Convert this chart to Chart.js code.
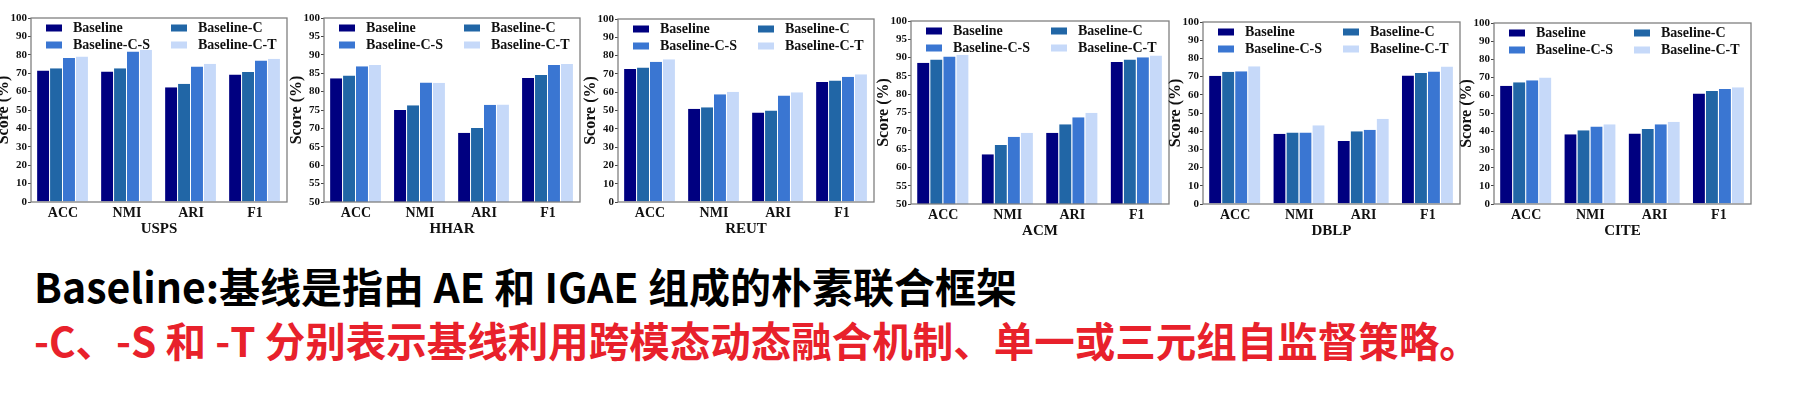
<!DOCTYPE html>
<html>
<head>
<meta charset="utf-8">
<script src="https://cdn.jsdelivr.net/npm/chart.js@4.4.1/dist/chart.umd.min.js"></script>
<style>
    body { margin: 0; width: 1802px; height: 397px; overflow: hidden; background: #fff; position: relative; }
    canvas { position: absolute; top: 0; }
    .note { position: absolute; left: 34px; font-family: "Noto Sans CJK SC", sans-serif; font-weight: 700;
            line-height: 1; white-space: nowrap; }
</style>
</head>
<body>
<div id="charts"></div>
<div class="note" style="top:265px;font-size:41px;color:#000">Baseline:基线是指由 AE 和 IGAE 组成的朴素联合框架</div>
<div class="note" style="top:320px;font-size:40.5px;color:#e8212b">-C、-S 和 -T 分别表示基线利用跨模态动态融合机制、单一或三元组自监督策略。</div>
<script>
// Data
const categories = ['ACC', 'NMI', 'ARI', 'F1'];
const seriesNames = ['Baseline', 'Baseline-C', 'Baseline-C-S', 'Baseline-C-T'];
const datasetNames = ['USPS', 'HHAR', 'REUT', 'ACM', 'DBLP', 'CITE'];
const yMin = [0, 50, 0, 50, 0, 0];
const yStep = [10, 5, 10, 5, 10, 10];

// rows follow seriesNames, columns follow categories
const uspsScores = [
    [71.5, 70.9, 62.4, 69.3],
    [72.7, 72.7, 64.2, 70.7],
    [78.2, 81.8, 73.6, 76.9],
    [79.1, 82.7, 75.1, 77.8]
];
const hharScores = [
    [83.6, 75.0, 68.8, 83.7],
    [84.4, 76.3, 70.1, 84.5],
    [86.9, 82.5, 76.4, 87.2],
    [87.2, 82.4, 76.5, 87.5]
];
const reutScores = [
    [72.7, 50.9, 48.9, 65.6],
    [73.5, 51.8, 50.0, 66.4],
    [76.7, 58.9, 58.2, 68.5],
    [78.0, 60.2, 60.0, 69.8]
];
const acmScores = [
    [88.6, 63.6, 69.5, 88.8],
    [89.5, 66.1, 71.8, 89.5],
    [90.3, 68.4, 73.7, 90.1],
    [90.8, 69.5, 74.9, 90.6]
];
const dblpScores = [
    [70.4, 38.6, 34.6, 70.6],
    [72.6, 39.3, 40.0, 72.0],
    [72.9, 39.3, 40.8, 72.8],
    [75.7, 43.3, 46.8, 75.5]
];
const citeScores = [
    [65.4, 38.6, 39.0, 61.0],
    [67.3, 40.8, 41.5, 62.5],
    [68.4, 42.8, 44.1, 63.6],
    [69.9, 44.1, 45.4, 64.5]
];
const allScores = [uspsScores, hharScores, reutScores, acmScores, dblpScores, citeScores];

// Styling / layout
const seriesColors = ['#000080', '#2166a6', '#3a76d2', '#c6d9f9'];
// plot area of each panel on the page: left, top, right, bottom
const plotBoxes = [
    [31, 18, 287, 202], [324, 18, 580, 202], [618, 19, 874, 202],
    [911, 21, 1169, 204], [1203, 22, 1460, 204], [1494, 23, 1751, 204]
];
const SERIF = '"Liberation Serif", "Times New Roman", serif';
const Y_W = 48, X_H = 38, PAD_R = 8, CANVAS_H = 240;

// grey box round the plot area
const framePlugin = {
    id: 'frame',
    afterDraw(chart) {
        const { ctx, chartArea: a } = chart;
        ctx.save();
        ctx.strokeStyle = '#808080';
        ctx.lineWidth = 1.3;
        ctx.strokeRect(a.left, a.top, a.right - a.left, a.bottom - a.top);
        ctx.restore();
    }
};

// two-column legend inside the top of the plot
const legendPlugin = {
    id: 'innerLegend',
    afterDatasetsDraw(chart) {
        const { ctx, chartArea: a } = chart;
        ctx.save();
        ctx.font = 'bold 14px ' + SERIF;
        ctx.textBaseline = 'middle';
        chart.data.datasets.forEach((ds, k) => {
            const bx = a.left + 15 + (k % 2) * 125;
            const by = a.top + 10 + Math.floor(k / 2) * 17;
            ctx.fillStyle = ds.backgroundColor;
            ctx.fillRect(bx, by - 3.5, 16, 7);
            ctx.fillStyle = '#111';
            ctx.fillText(ds.label, bx + 27, by + 0.5);
        });
        ctx.restore();
    }
};

function makeChart(i) {
    const [L, T, R, B] = plotBoxes[i];
    const canvas = document.createElement('canvas');
    canvas.width = (R - L) + Y_W + PAD_R;
    canvas.height = CANVAS_H;
    canvas.style.left = (L - Y_W) + 'px';
    canvas.style.width = canvas.width + 'px';
    canvas.style.height = CANVAS_H + 'px';
    document.getElementById('charts').appendChild(canvas);

    const datasets = allScores[i].map((vals, k) => ({
        label: seriesNames[k],
        data: vals,
        backgroundColor: seriesColors[k],
        borderColor: '#ffffff',
        borderWidth: { left: 0, right: 1, top: 0, bottom: 0 },
        borderSkipped: false,
        categoryPercentage: 0.81,
        barPercentage: 1
    }));

    new Chart(canvas, {
        type: 'bar',
        data: { labels: categories, datasets: datasets },
        options: {
            responsive: false,
            animation: false,
            devicePixelRatio: 1,
            layout: { padding: { left: 0, top: T, right: PAD_R, bottom: CANVAS_H - B - X_H } },
            plugins: { legend: { display: false }, tooltip: { enabled: false } },
            scales: {
                x: {
                    grid: { display: false, drawTicks: false },
                    border: { display: false },
                    ticks: { font: { family: SERIF, size: 14, weight: 'bold' }, color: '#111', padding: 3 },
                    title: {
                        display: true,
                        text: datasetNames[i],
                        font: { family: SERIF, size: 15, weight: 'bold' },
                        color: '#111',
                        padding: { top: 0, bottom: 2 }
                    },
                    afterFit: (s) => { s.height = X_H; }
                },
                y: {
                    min: yMin[i],
                    max: 100,
                    ticks: {
                        stepSize: yStep[i],
                        font: { family: SERIF, size: 11, weight: 'bold' },
                        color: '#111',
                        padding: 1
                    },
                    grid: { drawOnChartArea: false, tickLength: 3, color: '#444' },
                    border: { display: false },
                    title: {
                        display: true,
                        text: 'Score (%)',
                        font: { family: SERIF, size: 16, weight: 'bold' },
                        color: '#111',
                        padding: { top: 11, bottom: 0 }
                    },
                    afterFit: (s) => { s.width = Y_W; }
                }
            }
        },
        plugins: [framePlugin, legendPlugin]
    });
}

allScores.forEach((_, i) => makeChart(i));
</script>
</body>
</html>
